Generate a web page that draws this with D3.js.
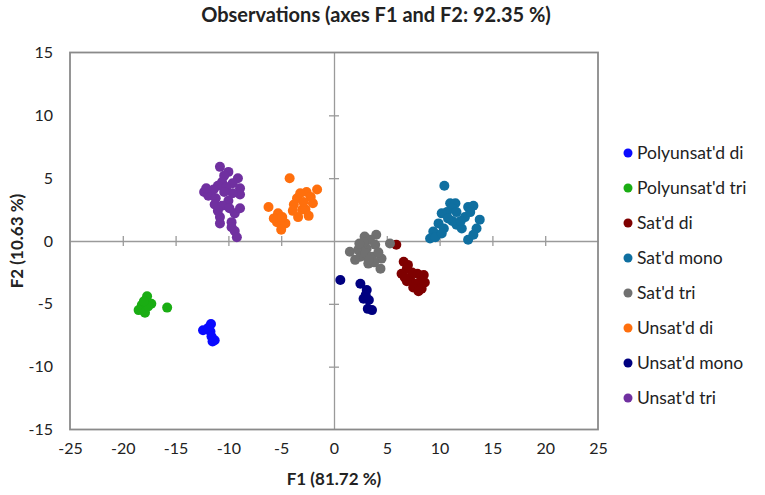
<!DOCTYPE html>
<html>
<head>
<meta charset="utf-8">
<script src="https://cdn.jsdelivr.net/npm/d3@7"></script>
<style>
  body { margin: 0; background: #fff; }
  svg text { font-family: Lato, "Liberation Sans", sans-serif; fill: #222; }
</style>
</head>
<body>
<div id="chart"></div>
<script>
const seriesNames = ["Polyunsat'd di", "Polyunsat'd tri", "Sat'd di", "Sat'd mono",
  "Sat'd tri", "Unsat'd di", "Unsat'd mono", "Unsat'd tri"];
const seriesColors = ["#0a0aff", "#1aad13", "#7f0000", "#0f6fa0",
  "#707070", "#ff6f0d", "#000080", "#7030a0"];

const polyDi = [[-11.65,-6.6],[-12.4,-7.1],[-11.7,-7.2],[-11.9,-6.9],[-11.3,-7.9],[-11.5,-8.0],[-11.6,-7.6]];
const polyTri = [[-17.7,-4.4],[-17.3,-5.0],[-18.2,-5.1],[-18.5,-5.5],[-17.9,-5.7],[-15.8,-5.3],[-17.6,-5.2],[-18.0,-4.8]];
const satDi = [[5.9,-0.3],[6.6,-1.65],[6.9,-2.2],[6.4,-2.6],[7.2,-3.0],[7.9,-2.6],[8.5,-2.7],[7.7,-3.4],
  [8.3,-3.8],[7.5,-3.7],[6.9,-3.2],[7.4,-2.5],[8.2,-3.2],[6.7,-2.9],[8.6,-3.3],[7.0,-1.9],[8.0,-4.0]];
const satMono = [[10.45,4.4],[11.0,3.0],[11.5,3.0],[11.2,2.6],[11.6,2.3],[10.7,2.3],[10.2,2.2],[12.7,2.7],
  [13.2,2.8],[12.4,1.9],[12.9,2.3],[13.8,1.7],[13.5,1.0],[12.7,0.1],[13.2,0.5],[11.6,1.3],[11.2,1.6],
  [12.1,1.0],[9.9,1.4],[10.4,1.0],[9.4,0.75],[9.1,0.2],[9.6,0.3],[10.2,0.6],[10.8,1.8],[12.0,1.6]];
const satTri = [[2.9,0.35],[4.0,0.5],[3.4,0.1],[1.5,-0.85],[2.3,-0.7],[3.1,-0.6],[3.9,-0.3],[5.3,-0.2],
  [2.5,-1.25],[3.0,-1.0],[3.6,-1.25],[4.5,-1.4],[3.25,-1.8],[4.4,-2.2],[2.8,-0.1],[4.2,-0.9],[2.0,-1.5],
  [3.8,-1.7],[2.4,-0.2],[3.3,-1.5]];
const unsatDi = [[-4.2,5.0],[-6.2,2.7],[-5.3,2.2],[-5.4,1.5],[-4.6,1.4],[-5.0,0.9],[-5.7,1.8],[-4.9,1.9],
  [-3.5,3.4],[-3.8,2.9],[-3.4,1.9],[-3.0,2.5],[-2.6,3.9],[-1.6,4.1],[-2.0,3.0],[-2.7,2.5],[-2.4,2.0],
  [-3.2,3.8],[-2.2,3.5],[-3.9,2.4],[-2.9,3.1]];
const unsatMono = [[0.6,-3.1],[2.5,-3.4],[3.1,-3.9],[2.8,-4.6],[3.3,-4.7],[3.2,-5.4],[3.6,-5.5],[3.0,-4.3]];
const unsatTri = [[-10.8,5.9],[-10.0,5.5],[-10.4,5.2],[-9.1,5.0],[-10.6,4.7],[-11.0,4.4],[-9.6,4.6],[-8.9,4.2],
  [-10.2,4.3],[-11.4,4.1],[-12.3,3.9],[-11.9,3.6],[-12.1,4.2],[-8.9,3.7],[-9.6,3.8],[-10.4,3.9],[-11.2,3.4],
  [-10.0,3.2],[-11.3,2.9],[-10.6,2.8],[-9.4,2.2],[-8.9,2.6],[-10.8,1.9],[-10.8,1.4],[-9.7,1.5],[-9.7,1.1],
  [-9.4,0.8],[-9.2,0.3],[-11.0,2.4],[-9.9,2.6]];

const seriesPoints = [polyDi, polyTri, satDi, satMono, satTri, unsatDi, unsatMono, unsatTri];
const xTicks = [-25, -20, -15, -10, -5, 0, 5, 10, 15, 20, 25];
const yTicks = [-15, -10, -5, 0, 5, 10, 15];

const width = 765;
const height = 495;
const margin = { top: 52.5, right: 167, bottom: 65.5, left: 70 };

const svg = d3
  .select("#chart")
  .append("svg")
  .attr("width", width)
  .attr("height", height);

const x = d3.scaleLinear().domain([-25, 25]).range([margin.left, width - margin.right]);
const y = d3.scaleLinear().domain([-15, 15]).range([height - margin.bottom, margin.top]);

// plain hyphen for negatives, like the original
const fmt = (d) => String(d);

// tick labels along the bottom and left of the box
svg.append("g")
  .attr("transform", `translate(0, ${y(-15)})`)
  .call(d3.axisBottom(x).tickValues(xTicks).tickFormat(fmt).tickSize(0).tickPadding(13))
  .call((g) => g.select(".domain").remove())
  .selectAll("text")
  .style("font-size", "16px");

svg.append("g")
  .attr("transform", `translate(${x(-25)}, 0)`)
  .call(d3.axisLeft(y).tickValues(yTicks).tickFormat(fmt).tickSize(0).tickPadding(17))
  .call((g) => g.select(".domain").remove())
  .selectAll("text")
  .style("font-size", "16px");

// zero lines with crossing ticks
const innerX = xTicks.filter((d) => d !== 0 && Math.abs(d) !== 25);
const innerY = yTicks.filter((d) => d !== 0 && Math.abs(d) !== 15);

svg.append("g")
  .attr("transform", `translate(0, ${y(0)})`)
  .call(d3.axisBottom(x).tickValues(innerX).tickSizeOuter(0).tickFormat(""))
  .call((g) => g.select(".domain").attr("stroke", "#9a9a9a").attr("stroke-width", 1.3))
  .call((g) => g.selectAll(".tick line").attr("y1", -5).attr("y2", 5).attr("stroke", "#9a9a9a").attr("stroke-width", 1.3));

svg.append("g")
  .attr("transform", `translate(${x(0)}, 0)`)
  .call(d3.axisLeft(y).tickValues(innerY).tickSizeOuter(0).tickFormat(""))
  .call((g) => g.select(".domain").attr("stroke", "#9a9a9a").attr("stroke-width", 1.3))
  .call((g) => g.selectAll(".tick line").attr("x1", -5).attr("x2", 5).attr("stroke", "#9a9a9a").attr("stroke-width", 1.3));

// plot border
svg.append("rect")
  .attr("x", x(-25))
  .attr("y", y(15))
  .attr("width", x(25) - x(-25))
  .attr("height", y(-15) - y(15))
  .attr("fill", "none")
  .attr("stroke", "#8a8a8a")
  .attr("stroke-width", 1.8);

// points
seriesPoints.forEach((pts, i) => {
  svg.append("g")
    .selectAll("circle")
    .data(pts)
    .enter()
    .append("circle")
    .attr("cx", (d) => x(d[0]))
    .attr("cy", (d) => y(d[1]))
    .attr("r", 5)
    .attr("fill", seriesColors[i]);
});

// titles
svg.append("text")
  .attr("x", 376)
  .attr("y", 22)
  .attr("text-anchor", "middle")
  .style("font-size", "20px")
  .style("font-weight", "bold")
  .text("Observations (axes F1 and F2: 92.35 %)");

svg.append("text")
  .attr("x", x(0))
  .attr("y", 485)
  .attr("text-anchor", "middle")
  .style("font-size", "17px")
  .style("font-weight", "bold")
  .text("F1 (81.72 %)");

svg.append("text")
  .attr("transform", `translate(23, ${y(0)}) rotate(-90)`)
  .attr("text-anchor", "middle")
  .style("font-size", "17px")
  .style("font-weight", "bold")
  .text("F2 (10.63 %)");

// legend
const legend = svg.append("g")
  .selectAll("g")
  .data(seriesNames)
  .enter()
  .append("g")
  .attr("transform", (d, i) => `translate(628, ${153 + i * 35})`);

legend.append("circle")
  .attr("r", 4.5)
  .attr("fill", (d, i) => seriesColors[i]);

legend.append("text")
  .attr("x", 9)
  .attr("y", 6)
  .style("font-size", "17.5px")
  .text((d) => d);
</script>
</body>
</html>
